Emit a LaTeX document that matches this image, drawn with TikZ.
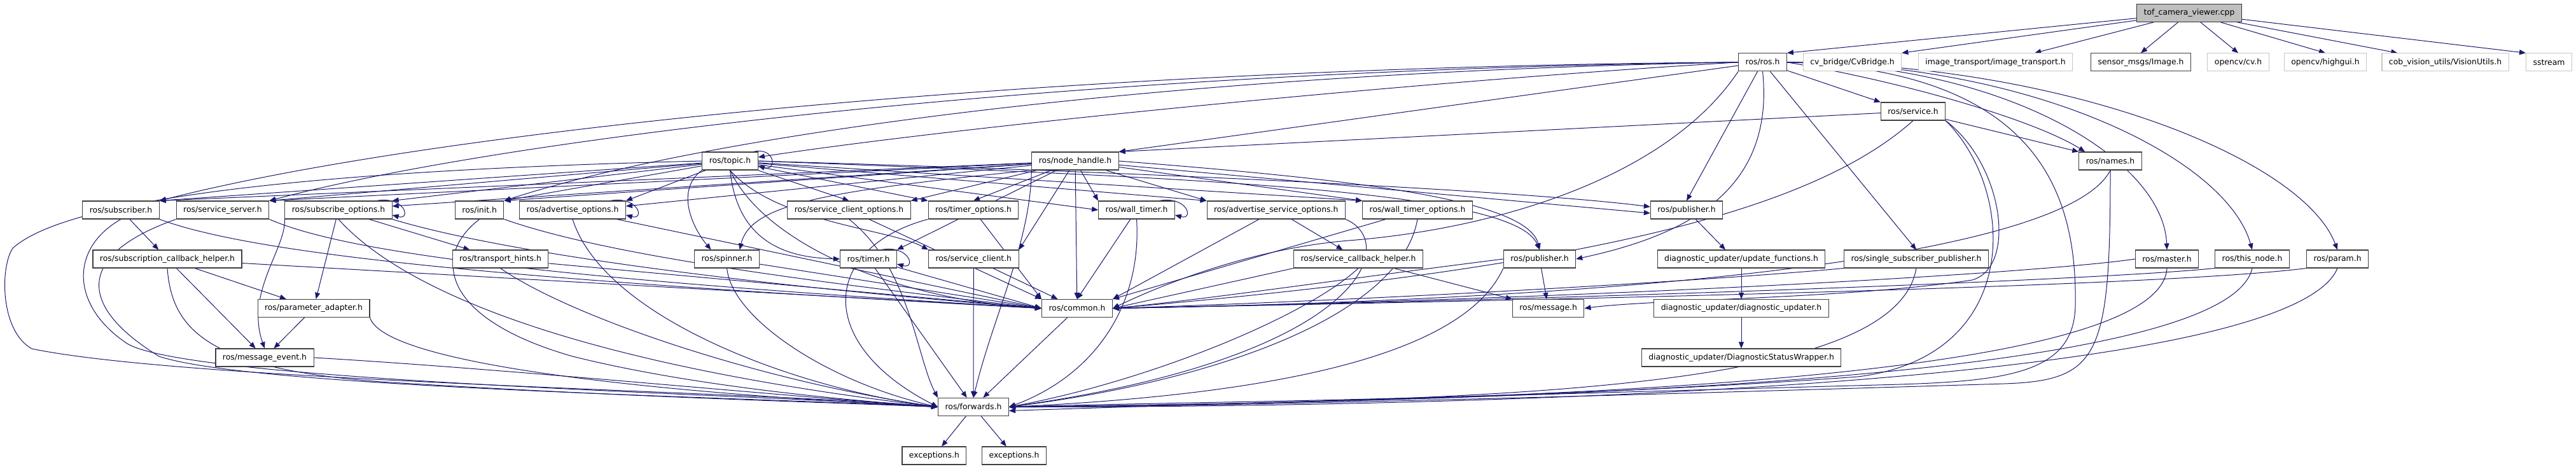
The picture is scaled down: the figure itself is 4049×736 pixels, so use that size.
\documentclass[tikz,border=0pt]{standalone}
\usepackage{fontspec}
\setmainfont{DejaVu Sans}
\usetikzlibrary{arrows.meta}
\definecolor{edgecol}{RGB}{25,25,112}
\pgfdeclarelayer{bg}
\pgfsetlayers{bg,main}
\tikzset{
  box/.style={draw=black!75, line width=1.1pt, fill=white, font=\fontsize{12.4pt}{14pt}\selectfont, inner xsep=11pt, inner ysep=0pt, minimum height=28pt},
  gbox/.style={box, draw=black!22},
  rootbox/.style={box, fill=black!25, draw=black!80},
  e/.style={draw=edgecol, line width=1pt, -{Triangle[length=10pt,width=8pt]}},
}
\begin{document}
\begin{tikzpicture}[x=1pt,y=-1pt]
\useasboundingbox (0,0) rectangle (4049,736);
% row 0
\node[rootbox] (T) at (3441,20.5) {tof\_camera\_viewer.cpp};
% row 1
\node[box]  (ros)  at (2770.5,97.8) {ros/ros.h};
\node[gbox] (cvb)  at (2911.5,97.8) {cv\_bridge/CvBridge.h};
\node[gbox] (itr)  at (3136.5,97.8) {image\_transport/image\_transport.h};
\node[box]  (smi)  at (3365,97.8) {sensor\_msgs/Image.h};
\node[gbox] (cvh)  at (3518,97.8) {opencv/cv.h};
\node[gbox] (hgui) at (3655,97.8) {opencv/highgui.h};
\node[gbox] (vu)   at (3843.5,97.8) {cob\_vision\_utils/VisionUtils.h};
\node[gbox] (sst)  at (4006.5,97.8) {sstream};
% row 2
\node[box] (srv) at (3007,175) {ros/service.h};
% row 3
\node[box] (topic) at (1147.5,253) {ros/topic.h};
\node[box] (nh)    at (1690,253) {ros/node\_handle.h};
\node[box] (names) at (3317,253) {ros/names.h};
% row 4
\node[box] (sub)   at (190,330) {ros/subscriber.h};
\node[box] (ssrv)  at (350,330) {ros/service\_server.h};
\node[box] (subo)  at (532,330) {ros/subscribe\_options.h};
\node[box] (init)  at (753.7,330) {ros/init.h};
\node[box] (advo)  at (900,330) {ros/advertise\_options.h};
\node[box] (scopt) at (1334.5,330) {ros/service\_client\_options.h};
\node[box] (tmo)   at (1530,330) {ros/timer\_options.h};
\node[box] (wt)    at (1786.5,330) {ros/wall\_timer.h};
\node[box] (asvo)  at (2005.7,330) {ros/advertise\_service\_options.h};
\node[box] (wto)   at (2228,330) {ros/wall\_timer\_options.h};
\node[box] (pub1)  at (2651,330) {ros/publisher.h};
% row 5
\node[box] (sch)  at (263,407) {ros/subscription\_callback\_helper.h};
\node[box] (th)   at (786.5,407) {ros/transport\_hints.h};
\node[box] (spin) at (1142.6,407) {ros/spinner.h};
\node[box] (tmr)  at (1365,407) {ros/timer.h};
\node[box] (scl)  at (1530.3,407) {ros/service\_client.h};
\node[box] (svcb) at (2135,407) {ros/service\_callback\_helper.h};
\node[box] (pub2) at (2420,407) {ros/publisher.h};
\node[box] (upf)  at (2737,407) {diagnostic\_updater/update\_functions.h};
\node[box] (ssp)  at (3012,407) {ros/single\_subscriber\_publisher.h};
\node[box] (mst)  at (3406,407) {ros/master.h};
\node[box] (thn)  at (3540,407) {ros/this\_node.h};
\node[box] (prm)  at (3674,407) {ros/param.h};
% row 6
\node[box] (pad) at (493,484.5) {ros/parameter\_adapter.h};
\node[box] (com) at (1693,484.5) {ros/common.h};
\node[box] (msg) at (2433.6,484.5) {ros/message.h};
\node[box] (dup) at (2737,484.5) {diagnostic\_updater/diagnostic\_updater.h};
% row 7
\node[box] (mev) at (416,562) {ros/message\_event.h};
\node[box] (dsw) at (2737,562) {diagnostic\_updater/DiagnosticStatusWrapper.h};
% row 8
\node[box] (fwd) at (1530,639.5) {ros/forwards.h};
% row 9
\node[box] (ex1) at (1468.4,716) {exceptions.h};
\node[box] (ex2) at (1594,716) {exceptions.h};

\begin{pgfonlayer}{bg}
% root
\draw[e] (T) -- (ros.north east);
\draw[e] (T) -- (cvb.north east);
\draw[e] (T) -- ([xshift=-60pt]itr.north east);
\draw[e] (T) -- (smi.north);
\draw[e] (T) -- (cvh.north);
\draw[e] (T) -- (hgui.north);
\draw[e] (T) -- ([xshift=25pt]vu.north west);
\draw[e] (T) -- (sst.north west);
% ros
\draw[e] (ros.west) .. controls (2200,130) and (1500,200) .. ([yshift=6pt]topic.east);
\draw[e] (ros) -- (nh.north east);
\draw[e] (ros.west) .. controls (1700,105) and (700,200) .. (sub.north east);
\draw[e] (ros.west) .. controls (1700,110) and (800,215) .. (ssrv.north east);
\draw[e] (ros.west) .. controls (1800,115) and (1100,215) .. (init.north east);
\draw[e] (ros) -- (pub1.north);
\draw[e] (ros) -- (ssp.north);
\draw[e] (ros) -- (srv.north west);
\draw[e] (ros.east) .. controls (3000,130) and (3200,190) .. ([xshift=10pt]names.north west);
\draw[e] (ros.east) .. controls (3150,100) and (3400,250) .. (mst.north);
\draw[e] (ros.east) .. controls (3200,100) and (3500,250) .. (thn.north);
\draw[e] (ros.east) .. controls (3250,100) and (3620,250) .. (prm.north);
\draw[e] (ros.south west) .. controls (2620,280) and (2350,360) .. (2120,378) .. controls (1950,392) and (1800,460) .. (com.east);
\draw[e] (ros.south) .. controls (2790,300) and (2650,370) .. (pub2.east);
\draw[e] (ros.east) .. controls (3200,110) and (3265,300) .. (3262,480) .. controls (3260,590) and (3150,600) .. (2950,605) .. controls (2400,620) and (1900,635) .. ([yshift=-6pt]fwd.east);
% service
\draw[e] (srv) -- (nh.north east);
\draw[e] (srv) -- (names.north west);
\draw[e] (srv.south) .. controls (2850,330) and (2500,420) .. (com.east);
\draw[e] (srv.south east) .. controls (3150,260) and (3170,420) .. (3100,440) .. controls (2900,470) and (2600,470) .. (msg.east);
\draw[e] (srv.south east) .. controls (3170,300) and (3180,560) .. (2920,592) .. controls (2400,630) and (1900,630) .. (fwd.east);
% names, master, this_node, param, ssp
\draw[e] (names.south) .. controls (3250,400) and (2600,470) .. (com.east);
\draw[e] (names.south) .. controls (3317,560) and (3300,598) .. (3150,603) .. controls (2600,620) and (1900,640) .. (fwd.east);
\draw[e] (mst.west) .. controls (3200,430) and (2500,470) .. (com.east);
\draw[e] (mst.south) .. controls (3395,600) and (2400,630) .. (fwd.east);
\draw[e] (thn.south west) .. controls (3300,440) and (2500,470) .. (com.east);
\draw[e] (thn.south) .. controls (3500,600) and (2400,630) .. (fwd.east);
\draw[e] (prm.south west) .. controls (3400,450) and (2500,470) .. (com.east);
\draw[e] (prm.south) .. controls (3600,600) and (2400,640) .. (fwd.east);
\draw[e] (ssp.south west) .. controls (2700,440) and (2200,470) .. (com.east);
\draw[e] (ssp.south) .. controls (2980,610) and (2400,630) .. (fwd.east);
% publishers, diagnostics
\draw[e] (pub1) -- ([xshift=-25pt]upf.north);
\draw[e] (upf) -- (dup);
\draw[e] (dup) -- (dsw);
\draw[e] (pub2) -- (msg);
\draw[e] (pub2.west) .. controls (2100,440) and (1900,470) .. (com.east);
\draw[e] (pub2.south west) .. controls (2300,560) and (2000,620) .. (fwd.east);
% service callback helper, advertise service options, wall timer options, wall timer
\draw[e] (svcb) -- (msg.north west);
\draw[e] (svcb.south west) -- (com.east);
\draw[e] (svcb.south) .. controls (2050,500) and (1800,600) .. (fwd.east);
\draw[e] (asvo) -- (svcb);
\draw[e] (asvo) -- (com.north east);
\draw[e] (asvo.south east) .. controls (2200,380) and (2150,560) .. (fwd.east);
\draw[e] (wto) -- (com.north east);
\draw[e] (wto.south) .. controls (2200,500) and (1900,600) .. (fwd.east);
\draw[e] (wt) -- (com.north);
\draw[e] (wt.south) .. controls (1795,480) and (1720,590) .. (fwd.east);
\draw[e] ([xshift=-25pt]wt.north east) .. controls +(45,-8) and +(30,8) .. ([yshift=-8pt]wt.east);
% timer options, service client options, advertise options
\draw[e] (tmo) -- (com.north west);
\draw[e] (tmo.south west) .. controls (1290,390) and (1280,540) .. (fwd.west);
\draw[e] (scopt) -- (com.north west);
\draw[e] (scopt.south) .. controls (1430,420) and (1440,560) .. (fwd.north west);
\draw[e] (advo) -- (com.west);
\draw[e] (advo.south) .. controls (950,500) and (1250,610) .. (fwd.west);
\draw[e] ([xshift=-25pt]advo.north east) .. controls +(45,-8) and +(30,8) .. ([yshift=-8pt]advo.east);
% init
\draw[e] (init.south east) .. controls (950,400) and (1250,440) .. (com.west);
\draw[e] (init.south) .. controls (680,400) and (690,500) .. (900,560) .. controls (1100,610) and (1350,630) .. (fwd.west);
% subscribe options
\draw[e] (subo) -- (th);
\draw[e] (subo) -- (pad);
\draw[e] (subo.south west) .. controls (450,390) and (385,460) .. (mev.north);
\draw[e] (subo.south east) .. controls (800,400) and (1200,450) .. (com.west);
\draw[e] (subo.south) .. controls (600,420) and (800,560) .. (fwd.west);
\draw[e] ([xshift=-25pt]subo.north east) .. controls +(45,-8) and +(30,8) .. ([yshift=-8pt]subo.east);
% subscriber, service server
\draw[e] (sub) -- (sch);
\draw[e] (sub.south east) .. controls (400,400) and (800,440) .. (com.west);
\draw[e] (sub.south) .. controls (110,390) and (110,480) .. (200,540) .. controls (300,600) and (1200,620) .. (fwd.west);
\draw[e] (ssrv.south east) .. controls (550,400) and (900,440) .. (com.west);
\draw[e] (ssrv.south west) .. controls (120,400) and (120,480) .. (250,560) .. controls (400,610) and (1200,625) .. (fwd.west);
% subscription callback helper, parameter adapter, message event
\draw[e] (sch) -- (pad);
\draw[e] (sch) -- (mev);
\draw[e] (sch) -- (com.west);
\draw[e] (sch.south) .. controls (270,520) and (330,580) .. (600,600) .. controls (1000,625) and (1300,632) .. (fwd.west);
\draw[e] (pad) -- (mev);
\draw[e] (pad.south east) .. controls (600,560) and (900,610) .. (fwd.west);
\draw[e] (mev.east) .. controls (800,580) and (1200,620) .. (fwd.west);
% transport hints, spinner, timer, service client
\draw[e] (th) -- (com.west);
\draw[e] (th.south) .. controls (900,500) and (1200,600) .. (fwd.west);
\draw[e] (spin) -- (com.west);
\draw[e] (spin.south) .. controls (1150,500) and (1300,600) .. (fwd.west);
\draw[e] (tmr) -- (com.west);
\draw[e] (tmr) -- (fwd);
\draw[e] ([xshift=-25pt]tmr.north east) .. controls +(45,-8) and +(30,8) .. ([yshift=-8pt]tmr.east);
\draw[e] (scl) -- (fwd);
\draw[e] (scl) -- (com);
\draw[e] (com) -- (fwd);
\draw[e] (fwd) -- (ex1);
\draw[e] (fwd) -- (ex2);
% topic
\draw[e] ([xshift=-8pt]topic.north east) .. controls +(35,-8) and +(30,8) .. ([yshift=-8pt]topic.east);
\draw[e] (topic) -- (sub.north east);
\draw[e] (topic) -- (ssrv.north east);
\draw[e] (topic) -- (subo.north east);
\draw[e] (topic) -- (init.north east);
\draw[e] (topic) -- (advo.north east);
\draw[e] (topic) -- (scopt.north);
\draw[e] (topic) -- (tmo.north west);
\draw[e] (topic) -- (wt.west);
\draw[e] (topic) -- (asvo.north west);
\draw[e] (topic) -- (wto.north west);
\draw[e] (topic.east) .. controls (1800,270) and (2400,300) .. ([yshift=5pt]pub1.west);
\draw[e] (topic.east) .. controls (1900,280) and (2380,300) .. (pub2.north);
\draw[e] (topic.south west) .. controls (1060,300) and (1090,360) .. ([xshift=-25pt]spin.north);
\draw[e] (topic.south) .. controls (1160,390) and (1250,405) .. (tmr.west);
\draw[e] (topic.south) .. controls (1220,350) and (1400,360) .. (scl.north west);
\draw[e] (topic.west) .. controls (600,265) and (120,300) .. (20,390) .. controls (0,420) and (0,520) .. (50,548) .. controls (300,600) and (1200,615) .. (fwd.west);
\draw[e] (topic.south) .. controls (1200,380) and (1400,470) .. (com.west);
% node handle
\draw[e] (nh) -- (sub.north east);
\draw[e] (nh) -- (ssrv.north east);
\draw[e] (nh) -- ([yshift=6pt]subo.east);
\draw[e] (nh) -- (init.north east);
\draw[e] (nh) -- ([yshift=6pt]advo.east);
\draw[e] (nh) -- (scopt.north east);
\draw[e] (nh) -- (tmo.north);
\draw[e] (nh) -- (wt.north west);
\draw[e] (nh) -- (asvo.north west);
\draw[e] (nh) -- (wto.north west);
\draw[e] (nh) -- ([yshift=-5pt]pub1.west);
\draw[e] (nh.east) .. controls (2100,280) and (2400,310) .. (pub2.north);
\draw[e] (nh.south west) .. controls (1300,300) and (1180,320) .. ([xshift=20pt]spin.north);
\draw[e] (nh) -- (tmr.north east);
\draw[e] (nh) -- (scl.north east);
\draw[e] (nh.south west) .. controls (1620,380) and (1560,500) .. (fwd.north);
\draw[e] (nh) -- (com);
\end{pgfonlayer}
\end{tikzpicture}
\end{document}
